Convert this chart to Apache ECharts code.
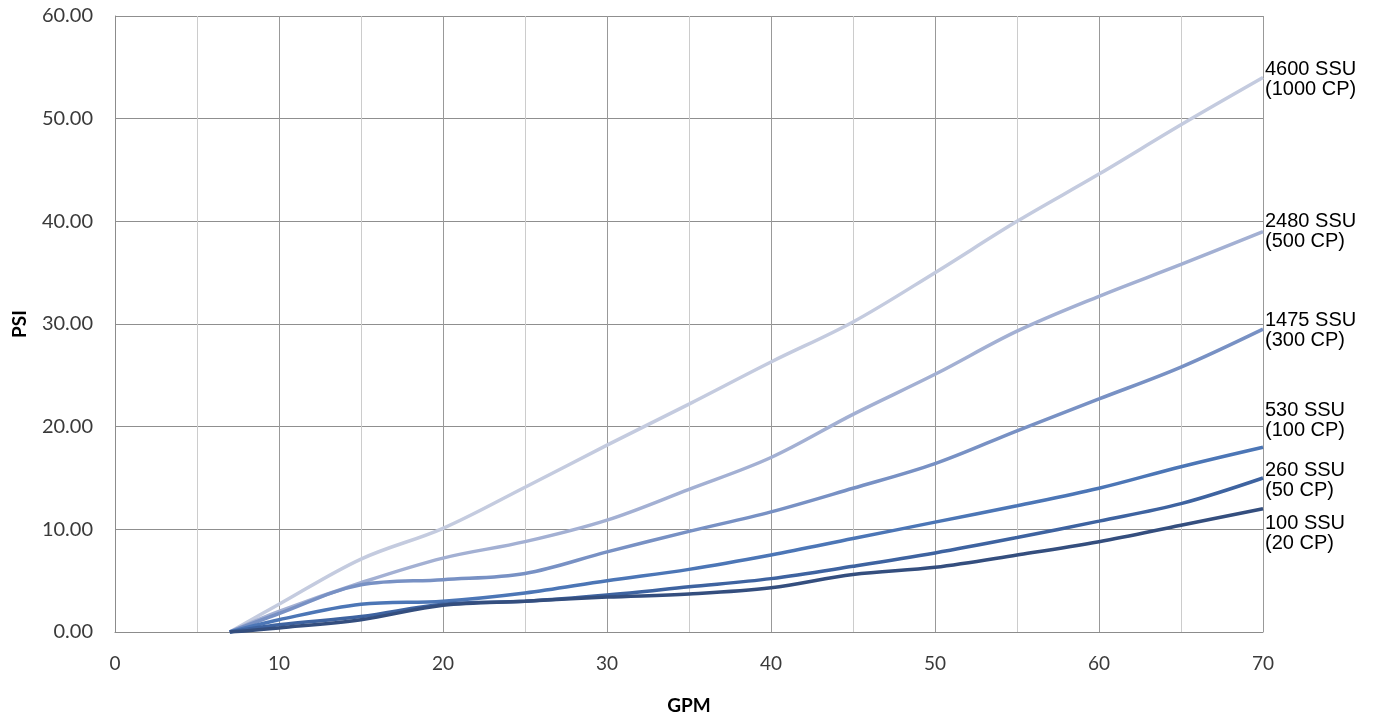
<!DOCTYPE html>
<html>
<head>
<meta charset="utf-8">
<script src="https://cdn.jsdelivr.net/npm/echarts@6/dist/echarts.min.js"></script>
<style>
html,body{margin:0;padding:0;background:#fff;}
#chart{width:1379px;height:717px;}
</style>
</head>
<body>
<div id="chart"></div>
<script>
// GPM sample points
var gpm = [7, 10, 15, 20, 25, 30, 35, 40, 45, 50, 55, 60, 65, 70];
// PSI values per viscosity
var psi4600 = [0, 2.7, 7.1, 10.1, 14.1, 18.2, 22.2, 26.3, 30.2, 35.0, 40.0, 44.6, 49.4, 54.0];
var psi2480 = [0, 2.0, 4.8, 7.2, 8.8, 10.9, 13.9, 17.0, 21.2, 25.1, 29.3, 32.7, 35.8, 39.0];
var psi1475 = [0, 1.8, 4.6, 5.1, 5.7, 7.8, 9.8, 11.7, 14.0, 16.4, 19.6, 22.7, 25.8, 29.5];
var psi530  = [0, 1.2, 2.7, 3.0, 3.8, 5.0, 6.1, 7.5, 9.1, 10.7, 12.3, 14.0, 16.1, 18.0];
var psi260  = [0, 0.7, 1.5, 2.7, 3.0, 3.6, 4.4, 5.2, 6.4, 7.7, 9.2, 10.8, 12.5, 15.0];
var psi100  = [0, 0.4, 1.2, 2.6, 3.0, 3.4, 3.7, 4.3, 5.6, 6.3, 7.5, 8.8, 10.4, 12.0];
var seriesNames = ['4600 SSU\n(1000 CP)', '2480 SSU\n(500 CP)', '1475 SSU\n(300 CP)', '530 SSU\n(100 CP)', '260 SSU\n(50 CP)', '100 SSU\n(20 CP)'];
var xTicks = [0, 10, 20, 30, 40, 50, 60, 70];
var yTicks = [0, 10, 20, 30, 40, 50, 60];

var allValues = [psi4600, psi2480, psi1475, psi530, psi260, psi100];
var colors = ['#c4cbdf', '#a3b0d3', '#7891c4', '#4c76b6', '#3e63a0', '#344e7e'];
var labelOffsets = [[0, 2], [0, 0], [0, 1], [0, -27], [0, 2], [0, 25]];

function pairs(vals) {
  return gpm.map(function (g, i) { return [g, vals[i]]; });
}

var series = allValues.map(function (vals, i) {
  return {
    name: seriesNames[i],
    type: 'line',
    data: pairs(vals),
    smooth: 0.35,
    symbol: 'none',
    lineStyle: { color: colors[i], width: 3.5 },
    itemStyle: { color: colors[i] },
    z: 2 + i,
    endLabel: {
      show: true,
      formatter: seriesNames[i],
      distance: 2,
      offset: labelOffsets[i],
      color: '#000',
      fontFamily: 'Liberation Sans, Arial, sans-serif',
      fontSize: 20,
      lineHeight: 20,
      align: 'left',
      verticalAlign: 'middle'
    }
  };
});

var chart = echarts.init(document.getElementById('chart'));
chart.setOption({
  backgroundColor: '#fff',
  animation: false,
  grid: { left: 115, right: 116, top: 16, bottom: 85, containLabel: false, outerBoundsMode: 'none' },
  xAxis: {
    type: 'value',
    min: 0, max: 70, interval: 5,
    name: 'GPM',
    nameLocation: 'middle',
    nameGap: 64,
    nameTextStyle: { fontFamily: 'Lato, sans-serif', fontWeight: 'bold', fontSize: 19, color: '#000' },
    axisLine: { show: true, lineStyle: { color: '#8c8c8c', width: 1 } },
    axisTick: { show: false },
    axisLabel: {
      fontFamily: 'Lato, sans-serif', fontSize: 19, color: '#3a3a3a', margin: 22,
      formatter: function (v) { return xTicks.indexOf(v) >= 0 ? String(v) : ''; }
    },
    splitLine: { show: true, lineStyle: { color: ['#999999', '#cccccc'], width: 1 } }
  },
  yAxis: {
    type: 'value',
    min: 0, max: 60, interval: 10,
    name: 'PSI',
    nameLocation: 'middle',
    nameGap: 86,
    nameRotate: 90,
    nameTextStyle: { fontFamily: 'Lato, sans-serif', fontWeight: 'bold', fontSize: 19, color: '#000' },
    axisLine: { show: true, lineStyle: { color: '#8c8c8c', width: 1 } },
    axisTick: { show: false },
    axisLabel: {
      fontFamily: 'Lato, sans-serif', fontSize: 20, color: '#3a3a3a', margin: 22,
      formatter: function (v) { return yTicks.indexOf(v) >= 0 ? v.toFixed(2) : ''; }
    },
    splitLine: { show: true, lineStyle: { color: '#8f8f8f', width: 1 } }
  },
  series: series
});
</script>
</body>
</html>
